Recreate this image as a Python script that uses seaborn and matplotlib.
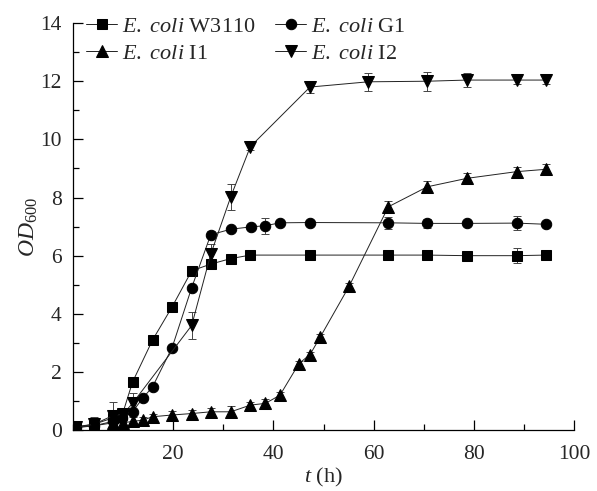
import matplotlib
matplotlib.use("Agg")
import matplotlib.pyplot as plt
import numpy as np
import pandas as pd
import seaborn as sns

# values
t_w3110 = [0.6, 4.2, 8.0, 9.9, 11.9, 15.9, 19.8, 23.7, 27.5, 31.5, 35.4, 47.3, 62.9, 70.7, 78.6, 88.5, 94.3]
od_w3110 = [0.12, 0.2, 0.42, 0.55, 1.65, 3.1, 4.24, 5.48, 5.71, 5.9, 6.02, 6.02, 6.02, 6.02, 6.0, 6.0, 6.02]
sd_w3110 = [0.05, 0.08, 0.1, 0.1, 0.1, 0.08, 0.08, 0.08, 0.08, 0.08, 0.08, 0.15, 0.1, 0.1, 0.1, 0.25, 0.15]

t_g1 = [0.6, 4.2, 8.0, 9.9, 11.9, 13.9, 15.9, 19.8, 23.7, 27.5, 31.5, 35.5, 38.4, 41.3, 47.3, 62.9, 70.7, 78.6, 88.5, 94.3]
od_g1 = [0.1, 0.15, 0.3, 0.4, 0.63, 1.09, 1.49, 2.84, 4.9, 6.72, 6.91, 6.99, 7.03, 7.13, 7.14, 7.13, 7.11, 7.11, 7.12, 7.08]
sd_g1 = [0.05, 0.05, 0.1, 0.1, 0.1, 0.08, 0.08, 0.08, 0.1, 0.12, 0.08, 0.1, 0.28, 0.1, 0.1, 0.2, 0.15, 0.08, 0.25, 0.1]

t_i1 = [0.6, 4.2, 8.0, 10.0, 11.9, 13.9, 15.9, 19.8, 23.7, 27.5, 31.5, 35.4, 38.4, 41.3, 45.1, 47.3, 49.3, 55.1, 62.9, 70.7, 78.6, 88.5, 94.3]
od_i1 = [0.08, 0.15, 0.25, 0.25, 0.3, 0.34, 0.46, 0.52, 0.57, 0.63, 0.63, 0.86, 0.92, 1.2, 2.29, 2.6, 3.19, 4.95, 7.68, 8.37, 8.66, 8.89, 8.97]
sd_i1 = [0.05, 0.05, 0.1, 0.1, 0.15, 0.1, 0.1, 0.15, 0.12, 0.12, 0.2, 0.12, 0.15, 0.1, 0.1, 0.1, 0.1, 0.1, 0.2, 0.2, 0.2, 0.15, 0.2]

t_i2 = [0.6, 4.2, 8.0, 10.0, 11.9, 23.7, 27.5, 31.5, 35.4, 47.3, 58.9, 70.7, 78.6, 88.5, 94.3]
od_i2 = [0.1, 0.2, 0.5, 0.55, 0.92, 3.6, 6.05, 8.03, 9.75, 11.8, 11.98, 12.0, 12.04, 12.04, 12.04]
sd_i2 = [0.05, 0.25, 0.45, 0.2, 0.35, 0.46, 0.35, 0.45, 0.1, 0.2, 0.3, 0.33, 0.25, 0.15, 0.15]

strains = ["W3110", "I1", "G1", "I2"]
markers = {"W3110": "s", "I1": "^", "G1": "o", "I2": "v"}
sizes = {"W3110": 6.5, "I1": 8.5, "G1": 7.5, "I2": 8.5}
series = {
    "W3110": (t_w3110, od_w3110, sd_w3110),
    "I1": (t_i1, od_i1, sd_i1),
    "G1": (t_g1, od_g1, sd_g1),
    "I2": (t_i2, od_i2, sd_i2),
}

sns.set_style("ticks")
plt.rcParams["font.family"] = ["Liberation Serif", "DejaVu Serif"]
plt.rcParams["mathtext.fontset"] = "custom"
plt.rcParams["mathtext.rm"] = "Liberation Serif"
plt.rcParams["mathtext.it"] = "Liberation Serif:italic"

fig = plt.figure(figsize=(5.97, 4.91), dpi=100)
ax = fig.add_axes([0.122, 0.124, 0.840, 0.829])

handles = []
for name in strains:
    t, od, sd = series[name]
    df = pd.DataFrame({"t": t, "od": od})
    ax.errorbar(t, od, yerr=sd, fmt="none", ecolor="#444444", elinewidth=0.7, capsize=3, capthick=0.7, zorder=2)
    sns.lineplot(data=df, x="t", y="od", ax=ax, color="#222222", linewidth=0.7,
                 marker=markers[name], markersize=sizes[name],
                 markeredgecolor="black", markerfacecolor="black", zorder=3)
    handles.append(ax.lines[-1])

labels = [r"$\mathit{E.\ coli}$ " + s for s in strains]
ax.legend(handles, labels, ncol=2, loc="upper left", bbox_to_anchor=(0.0, 1.05), frameon=False,
          fontsize=16, handlelength=1.4, handletextpad=0.2, columnspacing=0.9, labelspacing=0.3,
          borderaxespad=0.2)

ax.set_xlim(0, 100)
ax.set_ylim(0, 14)
ax.set_xticks([20, 40, 60, 80, 100])
ax.set_xticks([0, 10, 30, 50, 70, 90], minor=True)
ax.set_yticks(np.arange(0, 15, 2))
ax.set_yticks(np.arange(1, 14, 2), minor=True)
ax.tick_params(which="both", direction="in", labelsize=15.5, color="black", width=0.9)
ax.tick_params(which="major", length=7)
ax.tick_params(which="minor", length=4)
ax.tick_params(axis="y", pad=8)
ax.tick_params(axis="x", pad=11)
for side in ["left", "bottom"]:
    ax.spines[side].set_linewidth(0.9)
    ax.spines[side].set_color("black")
sns.despine(ax=ax)

ax.set_xlabel(r"$\mathit{t}$ (h)", fontsize=16, labelpad=1)
ax.set_ylabel(r"$\mathit{OD}_{\mathrm{600}}$", fontsize=17, labelpad=0)

fig.savefig("out.png", dpi=100)
